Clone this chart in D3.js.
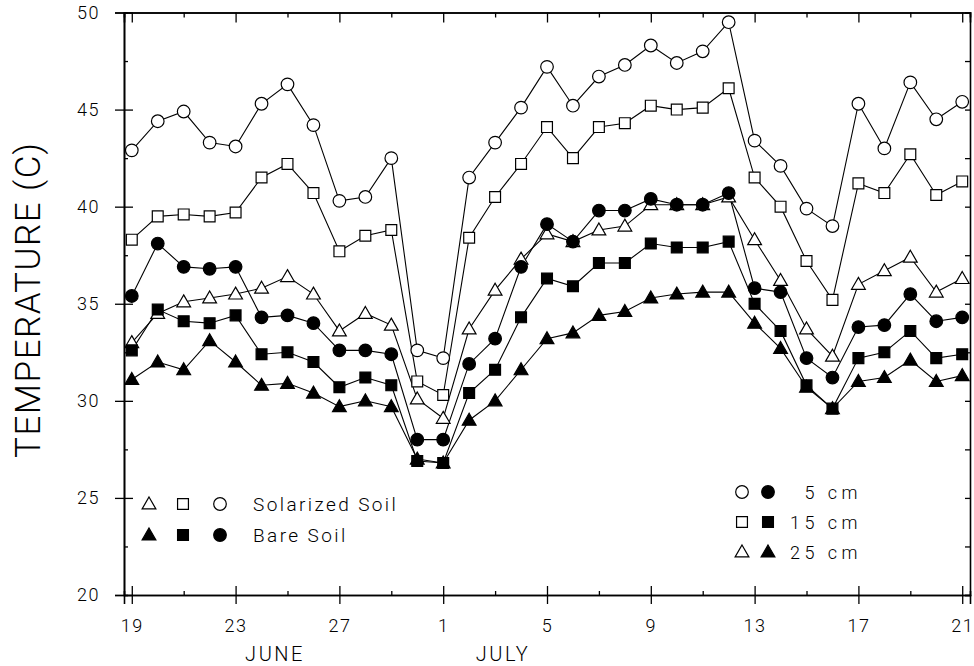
<!DOCTYPE html>
<html>
<head>
<meta charset="utf-8">
<script src="https://cdn.jsdelivr.net/npm/d3@7"></script>
<style>
body { margin: 0; background: #fff; }
text { font-family: "Roboto", "Liberation Sans", sans-serif; font-weight: 300; fill: #000; }
</style>
</head>
<body>
<div class="chart"></div>
<script>
var width = 974;
var height = 666;

// day of month, June 19 .. July 21
var dayOfMonth = [19,20,21,22,23,24,25,26,27,28,29,30,1,2,3,4,5,6,7,8,9,10,11,12,13,14,15,16,17,18,19,20,21];

var sol5  = [42.9,44.4,44.9,43.3,43.1,45.3,46.3,44.2,40.3,40.5,42.5,32.6,32.2,41.5,43.3,45.1,47.2,45.2,46.7,47.3,48.3,47.4,48.0,49.5,43.4,42.1,39.9,39.0,45.3,43.0,46.4,44.5,45.4];
var sol15 = [38.3,39.5,39.6,39.5,39.7,41.5,42.2,40.7,37.7,38.5,38.8,31.0,30.3,38.4,40.5,42.2,44.1,42.5,44.1,44.3,45.2,45.0,45.1,46.1,41.5,40.0,37.2,35.2,41.2,40.7,42.7,40.6,41.3];
var sol25 = [33.0,34.5,35.1,35.3,35.5,35.8,36.4,35.5,33.6,34.5,33.9,30.1,29.1,33.7,35.7,37.3,38.6,38.2,38.8,39.0,40.1,40.1,40.1,40.5,38.3,36.2,33.7,32.3,36.0,36.7,37.4,35.6,36.3];
var bare5  = [35.4,38.1,36.9,36.8,36.9,34.3,34.4,34.0,32.6,32.6,32.4,28.0,28.0,31.9,33.2,36.9,39.1,38.2,39.8,39.8,40.4,40.1,40.1,40.7,35.8,35.6,32.2,31.2,33.8,33.9,35.5,34.1,34.3];
var bare15 = [32.6,34.7,34.1,34.0,34.4,32.4,32.5,32.0,30.7,31.2,30.8,26.9,26.8,30.4,31.6,34.3,36.3,35.9,37.1,37.1,38.1,37.9,37.9,38.2,35.0,33.6,30.8,29.6,32.2,32.5,33.6,32.2,32.4];
var bare25 = [31.1,32.0,31.6,33.1,32.0,30.8,30.9,30.4,29.7,30.0,29.7,27.0,26.8,29.0,30.0,31.6,33.2,33.5,34.4,34.6,35.3,35.5,35.6,35.6,34.0,32.7,30.7,29.6,31.0,31.2,32.1,31.0,31.3];

var xMajor = [0,4,8,12,16,20,24,28,32];
var xMinor = [2,6,10,14,18,22,26,30];
var xTickLabels = ['19','23','27','1','5','9','13','17','21'];
var yMajor = [20,25,30,35,40,45,50];
var yMinor = [22.5,27.5,32.5,37.5,42.5,47.5];

var svg = d3.select('.chart')
	.append('svg')
	.attr('width', width)
	.attr('height', height)

var x = d3.scaleLinear().domain([-0.3, 32.3]).range([124, 970]);
var y = d3.scaleLinear().domain([20, 50]).range([595, 12.5]);

function styleAxis(g){
	g.select('.domain').attr('stroke', '#000').attr('stroke-width', 1.6);
	g.selectAll('.tick line').attr('stroke', '#000').attr('stroke-width', 1.3);
}

// bottom
var gb = svg.append('g').attr('transform', 'translate(0,' + y(20) + ')')
	.call(d3.axisBottom(x).tickValues(xMajor).tickSizeOuter(0).tickSize(9)
		.tickFormat(function(d, i){ return xTickLabels[i] }))
	.call(styleAxis);
gb.selectAll('.tick line').attr('y1', -9).attr('y2', 9);
gb.selectAll('.tick text').attr('y', 37).attr('dy', null).attr('font-size', 18).attr('letter-spacing', 1.5);
svg.append('g').attr('transform', 'translate(0,' + y(20) + ')')
	.call(d3.axisBottom(x).tickValues(xMinor).tickSizeOuter(0).tickSize(-4).tickFormat(''))
	.call(styleAxis);

// top
svg.append('g').attr('transform', 'translate(0,' + y(50) + ')')
	.call(d3.axisTop(x).tickValues(xMajor).tickSizeOuter(0).tickSize(-10).tickFormat(''))
	.call(styleAxis);
svg.append('g').attr('transform', 'translate(0,' + y(50) + ')')
	.call(d3.axisTop(x).tickValues(xMinor).tickSizeOuter(0).tickSize(-5).tickFormat(''))
	.call(styleAxis);

// left
var gl = svg.append('g').attr('transform', 'translate(' + x.range()[0] + ',0)')
	.call(d3.axisLeft(y).tickValues(yMajor).tickSizeOuter(0).tickSize(9))
	.call(styleAxis);
gl.selectAll('.tick line').attr('x1', 9).attr('x2', -9);
gl.selectAll('.tick text').attr('x', -24).attr('font-size', 18).attr('letter-spacing', 1.5);
svg.append('g').attr('transform', 'translate(' + x.range()[0] + ',0)')
	.call(d3.axisLeft(y).tickValues(yMinor).tickSizeOuter(0).tickSize(-4).tickFormat(''))
	.call(styleAxis);

// right
svg.append('g').attr('transform', 'translate(' + x.range()[1] + ',0)')
	.call(d3.axisRight(y).tickValues(yMajor.concat(yMinor)).tickSizeOuter(0).tickSize(-5).tickFormat(''))
	.call(styleAxis);

// axis titles
svg.append('text')
	.attr('transform', 'translate(40,' + (y(35) - 4) + ') rotate(-90)')
	.attr('text-anchor', 'middle')
	.attr('font-size', 35)
	.attr('letter-spacing', 1.5)
	.text('TEMPERATURE (C)')

svg.append('text').attr('x', 275).attr('y', 661).attr('text-anchor', 'middle')
	.attr('font-size', 20).attr('letter-spacing', 2.5).text('JUNE')
svg.append('text').attr('x', 503).attr('y', 661).attr('text-anchor', 'middle')
	.attr('font-size', 20).attr('letter-spacing', 2.5).text('JULY')

// series
var series = [
	{ values: sol5,   shape: d3.symbolCircle,   filled: false },
	{ values: sol15,  shape: d3.symbolSquare,   filled: false },
	{ values: sol25,  shape: d3.symbolTriangle, filled: false },
	{ values: bare25, shape: d3.symbolTriangle, filled: true },
	{ values: bare15, shape: d3.symbolSquare,   filled: true },
	{ values: bare5,  shape: d3.symbolCircle,   filled: true }
];

function symbolSize(shape){
	if (shape === d3.symbolCircle) return 125;
	if (shape === d3.symbolSquare) return 118;
	return 82;
}

var line = d3.line()
	.x(function(d, i){ return x(i) })
	.y(function(d){ return y(d) })

svg.selectAll('.serie-line')
	.data(series)
	.enter().append('path')
	.attr('class', 'serie-line')
	.attr('d', function(s){ return line(s.values) })
	.attr('fill', 'none')
	.attr('stroke', '#000')
	.attr('stroke-width', 1.1)

series.forEach(function(s){
	svg.selectAll(null)
		.data(s.values)
		.enter().append('path')
		.attr('transform', function(d, i){
			var dy = s.shape === d3.symbolTriangle ? 1 : 0;
			return 'translate(' + x(i) + ',' + (y(d) + dy) + ')'
		})
		.attr('d', d3.symbol().type(s.shape).size(symbolSize(s.shape)))
		.attr('fill', s.filled ? '#000' : '#fff')
		.attr('stroke', '#000')
		.attr('stroke-width', 1.2)
})

// legends
function marker(shape, filled, cx, cy){
	svg.append('path')
		.attr('transform', 'translate(' + cx + ',' + cy + ')')
		.attr('d', d3.symbol().type(shape).size(symbolSize(shape)))
		.attr('fill', filled ? '#000' : '#fff')
		.attr('stroke', '#000')
		.attr('stroke-width', 1.2)
}

marker(d3.symbolTriangle, false, 149, 505);
marker(d3.symbolSquare, false, 183, 504);
marker(d3.symbolCircle, false, 220, 504);
marker(d3.symbolTriangle, true, 149, 536);
marker(d3.symbolSquare, true, 183, 535);
marker(d3.symbolCircle, true, 220, 535);
svg.append('text').attr('x', 253).attr('y', 511).attr('font-size', 19).attr('letter-spacing', 2.4).text('Solarized Soil')
svg.append('text').attr('x', 253).attr('y', 542).attr('font-size', 19).attr('letter-spacing', 2.4).text('Bare Soil')

var depthLabels = ['5 cm', '15 cm', '25 cm'];
var depthShapes = [d3.symbolCircle, d3.symbolSquare, d3.symbolTriangle];
depthLabels.forEach(function(lab, i){
	var cy = 492 + i * 30;
	marker(depthShapes[i], false, 742, cy + (i === 2 ? 1 : 0));
	marker(depthShapes[i], true, 768, cy + (i === 2 ? 1 : 0));
	svg.append('text').attr('x', 862).attr('y', cy + 7).attr('text-anchor', 'end')
		.attr('font-size', 18).attr('letter-spacing', 4.5).text(lab)
})
</script>
</body>
</html>
